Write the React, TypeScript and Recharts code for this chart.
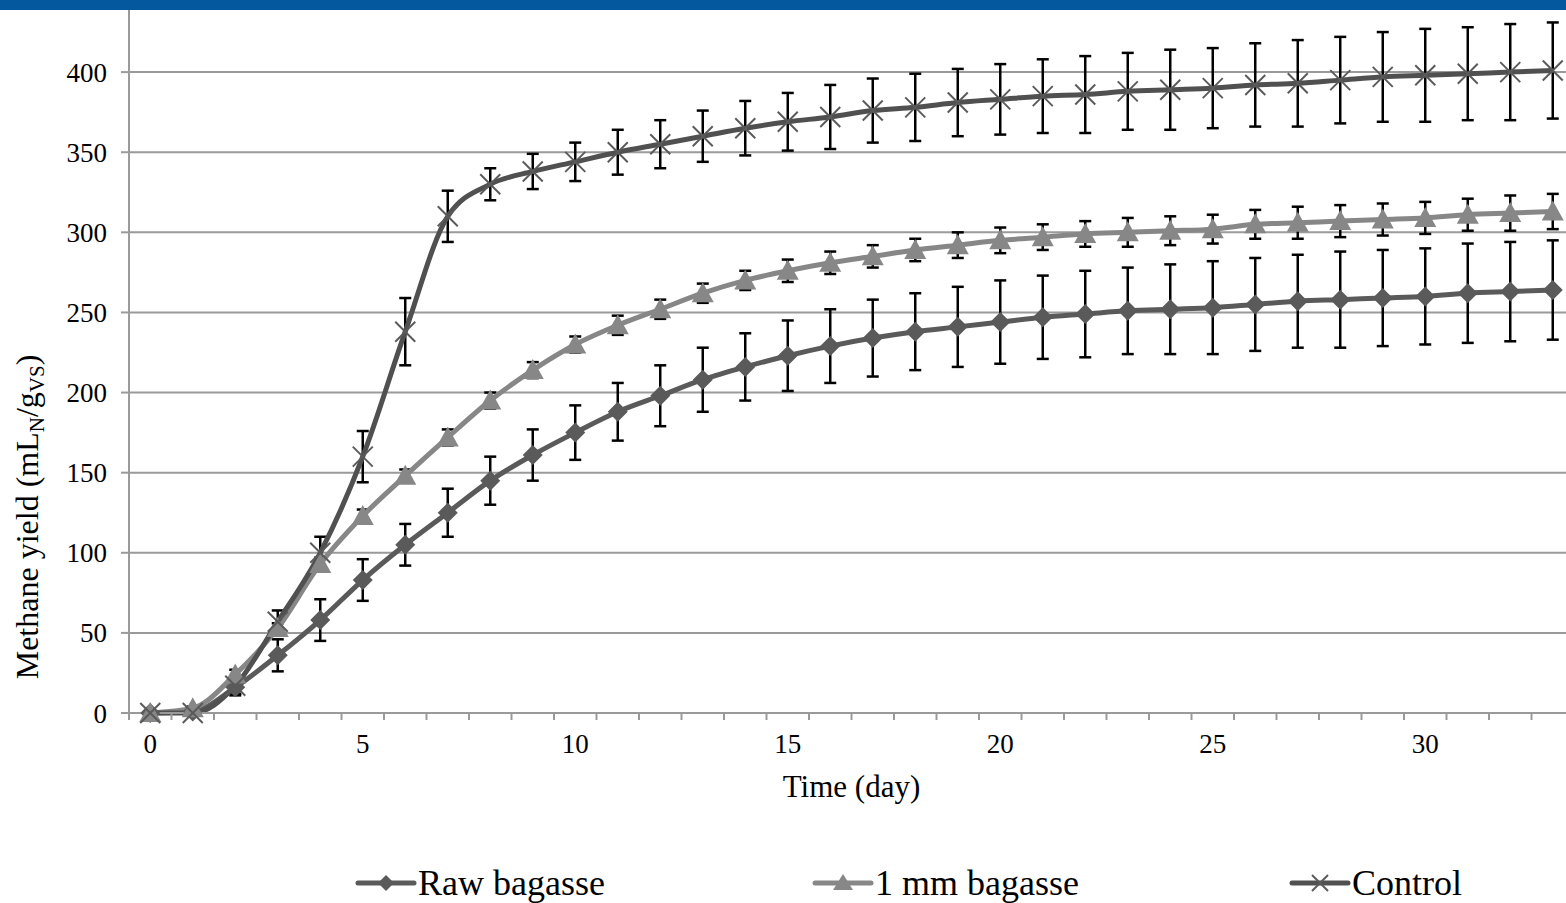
import React from "react";
import { LineChart, Line, XAxis, YAxis, CartesianGrid, ErrorBar, Label } from "recharts";

const days = [0, 1, 2, 3, 4, 5, 6, 7, 8, 9, 10, 11, 12, 13, 14, 15, 16, 17, 18, 19, 20, 21, 22, 23, 24, 25, 26, 27, 28, 29, 30, 31, 32, 33];

const rawBagasse = [0, 1, 16, 36, 58, 83, 105, 125, 145, 161, 175, 188, 198, 208, 216, 223, 229, 234, 238, 241, 244, 247, 249, 251, 252, 253, 255, 257, 258, 259, 260, 262, 263, 264];
const rawErr = [0, 1, 5, 10, 13, 13, 13, 15, 15, 16, 17, 18, 19, 20, 21, 22, 23, 24, 24, 25, 26, 26, 27, 27, 28, 29, 29, 29, 30, 30, 30, 31, 31, 31];

const mm1Bagasse = [0, 3, 24, 53, 93, 123, 148, 172, 195, 214, 230, 242, 252, 262, 270, 276, 281, 285, 289, 292, 295, 297, 299, 300, 301, 302, 305, 306, 307, 308, 309, 311, 312, 313];
const mm1Err = [0, 1, 3, 3, 4, 4, 4, 5, 5, 5, 5, 6, 6, 6, 6, 7, 7, 7, 7, 8, 8, 8, 8, 9, 9, 9, 9, 10, 10, 10, 10, 10, 11, 11];

const control = [0, 0, 17, 57, 100, 160, 238, 310, 330, 338, 344, 350, 355, 360, 365, 369, 372, 376, 378, 381, 383, 385, 386, 388, 389, 390, 392, 393, 395, 397, 398, 399, 400, 401];
const controlErr = [0, 0, 5, 7, 10, 16, 21, 16, 10, 11, 12, 14, 15, 16, 17, 18, 20, 20, 21, 21, 22, 23, 24, 24, 25, 25, 26, 27, 27, 28, 29, 29, 30, 30];

const yTicks = [0, 50, 100, 150, 200, 250, 300, 350, 400, 450];

const data = days.map((d, i) => ({
  day: d,
  raw: rawBagasse[i],
  rawErr: rawErr[i],
  mm1: mm1Bagasse[i],
  mm1Err: mm1Err[i],
  control: control[i],
  controlErr: controlErr[i],
}));

// minor marks between days plus the labelled days
const xTicks: number[] = [];
for (let v = -0.5; v <= 33.5; v += 0.5) xTicks.push(v);

const FONT = "'Liberation Serif', 'Times New Roman', serif";
const AXIS = "#9a9a9a";
const RAW = "#5a5a5a";
const MM1 = "#878787";
const CTRL = "#505050";

const Diamond = (p: any) => {
  const { cx, cy } = p;
  if (cx == null || cy == null) return null;
  const s = 10;
  return (
    <polygon
      key={`d${p.index}`}
      points={`${cx},${cy - s} ${cx + s},${cy} ${cx},${cy + s} ${cx - s},${cy}`}
      fill={RAW}
    />
  );
};

const Triangle = (p: any) => {
  const { cx, cy } = p;
  if (cx == null || cy == null) return null;
  return (
    <polygon
      key={`t${p.index}`}
      points={`${cx},${cy - 11} ${cx + 11},${cy + 9} ${cx - 11},${cy + 9}`}
      fill={MM1}
    />
  );
};

const Cross = (p: any) => {
  const { cx, cy } = p;
  if (cx == null || cy == null) return null;
  const s = 10;
  return (
    <g key={`x${p.index}`} stroke={RAW} strokeWidth={2}>
      <line x1={cx - s} y1={cy - s} x2={cx + s} y2={cy + s} />
      <line x1={cx - s} y1={cy + s} x2={cx + s} y2={cy - s} />
    </g>
  );
};

const XTick = (p: any) => {
  const { x, y, payload } = p;
  const v = payload.value;
  const half = Math.abs(v - Math.round(v)) > 0.1;
  if (half) {
    return <line x1={x} y1={y} x2={x} y2={y + 7} stroke={AXIS} strokeWidth={2} />;
  }
  if (v % 5 === 0) {
    return (
      <text x={x} y={y + 40} textAnchor="middle" fontSize={27} fontFamily={FONT} fill="#000">
        {v}
      </text>
    );
  }
  return null;
};

const YTitle = () => (
  <text
    x={0}
    y={0}
    transform="translate(38,517) rotate(-90)"
    textAnchor="middle"
    fontSize={32}
    fontFamily={FONT}
    fill="#000"
  >
    Methane yield (mL
    <tspan fontSize={21} dy={6}>N</tspan>
    <tspan dy={-6}>/g</tspan>
    <tspan fontSize={21} dy={6}>VS</tspan>
    <tspan dy={-6}>)</tspan>
  </text>
);

const legendItems = [
  { name: "Raw bagasse", color: RAW, x0: 358, mark: "diamond" },
  { name: "1 mm bagasse", color: MM1, x0: 815, mark: "triangle" },
  { name: "Control", color: CTRL, x0: 1292, mark: "cross" },
];

export default function App() {
  return (
    <div style={{ position: "fixed", left: 0, top: 0, width: 1566, height: 903, overflow: "hidden", background: "#fff" }}>
      <div style={{ position: "absolute", left: 0, top: -20 }}>
        <LineChart width={1574} height={923} data={data} margin={{ top: 12, right: 0, bottom: 100, left: 0 }}>
          <CartesianGrid vertical={false} stroke={AXIS} strokeWidth={2} />
          <XAxis
            dataKey="day"
            type="number"
            domain={[-0.5, 33.5]}
            ticks={xTicks}
            interval={0}
            tickLine={false}
            tickSize={0}
            tickMargin={0}
            tick={<XTick />}
            height={90}
            axisLine={{ stroke: AXIS, strokeWidth: 2 }}
          >
            <Label value="Time (day)" position="insideBottom" offset={6} fontSize={31} fontFamily={FONT} fill="#000" />
          </XAxis>
          <YAxis
            width={129}
            domain={[0, 450]}
            ticks={yTicks}
            interval={0}
            tickSize={8}
            tickMargin={14}
            tickFormatter={(v: number) => (v === 450 ? "" : String(v))}
            tick={{ fontSize: 27, fontFamily: FONT, fill: "#000" }}
            tickLine={{ stroke: AXIS, strokeWidth: 2 }}
            axisLine={{ stroke: AXIS, strokeWidth: 2 }}
          />
          <Line
            dataKey="raw"
            type="monotone"
            stroke={RAW}
            strokeWidth={5}
            dot={Diamond}
            activeDot={false}
            isAnimationActive={false}
          >
            <ErrorBar dataKey="rawErr" direction="y" width={6} strokeWidth={2.5} stroke="#000" />
          </Line>
          <Line
            dataKey="mm1"
            type="monotone"
            stroke={MM1}
            strokeWidth={5}
            dot={Triangle}
            activeDot={false}
            isAnimationActive={false}
          >
            <ErrorBar dataKey="mm1Err" direction="y" width={6} strokeWidth={2.5} stroke="#000" />
          </Line>
          <Line
            dataKey="control"
            type="monotone"
            stroke={CTRL}
            strokeWidth={5}
            dot={Cross}
            activeDot={false}
            isAnimationActive={false}
          >
            <ErrorBar dataKey="controlErr" direction="y" width={6} strokeWidth={2.5} stroke="#000" />
          </Line>
        </LineChart>
      </div>
      <svg width={1566} height={903} style={{ position: "absolute", left: 0, top: 0, pointerEvents: "none" }}>
        <YTitle />
        {legendItems.map((it) => {
          const cx = it.x0 + 28;
          const cy = 883;
          return (
            <g key={it.name}>
              <line x1={it.x0} y1={cy} x2={it.x0 + 56} y2={cy} stroke={it.color} strokeWidth={5} strokeLinecap="round" />
              {it.mark === "diamond" && (
                <polygon points={`${cx},${cy - 8} ${cx + 8},${cy} ${cx},${cy + 8} ${cx - 8},${cy}`} fill={it.color} />
              )}
              {it.mark === "triangle" && (
                <polygon points={`${cx},${cy - 9} ${cx + 10},${cy + 7} ${cx - 10},${cy + 7}`} fill={it.color} />
              )}
              {it.mark === "cross" && (
                <g stroke={RAW} strokeWidth={2}>
                  <line x1={cx - 8} y1={cy - 8} x2={cx + 8} y2={cy + 8} />
                  <line x1={cx - 8} y1={cy + 8} x2={cx + 8} y2={cy - 8} />
                </g>
              )}
              <text x={it.x0 + 60} y={895} fontSize={36} fontFamily={FONT} fill="#000">
                {it.name}
              </text>
            </g>
          );
        })}
      </svg>
      <div style={{ position: "absolute", left: 0, top: 0, width: 1566, height: 10, background: "#04589d" }} />
    </div>
  );
}
